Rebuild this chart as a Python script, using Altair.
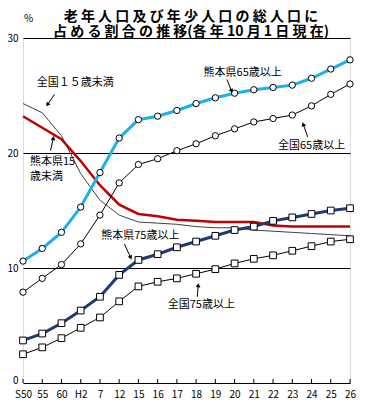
import json
import math
import altair as alt
import pandas as pd

# ---- data ----
cats = ["S50", "55", "60", "H2", "7", "12", "15", "16", "17", "18",
        "19", "20", "21", "22", "23", "24", "25", "26"]

kumamoto_65 = [10.6, 11.7, 13.1, 15.3, 18.3, 21.3, 22.9, 23.2, 23.7, 24.3,
               24.8, 25.2, 25.5, 25.7, 25.9, 26.5, 27.3, 28.1]
national_65 = [7.9, 9.1, 10.3, 12.1, 14.6, 17.4, 19.0, 19.5, 20.2, 20.8,
               21.5, 22.1, 22.7, 23.0, 23.3, 24.1, 25.1, 26.0]
kumamoto_75 = [3.7, 4.3, 5.2, 6.3, 7.5, 9.4, 10.7, 11.2, 11.8, 12.3,
               12.8, 13.3, 13.6, 14.1, 14.4, 14.7, 15.0, 15.2]
national_75 = [2.5, 3.1, 3.9, 4.8, 5.7, 7.1, 8.4, 8.8, 9.1, 9.5,
               9.9, 10.4, 10.8, 11.1, 11.5, 11.9, 12.3, 12.5]
kumamoto_15 = [23.2, 22.2, 21.2, 19.3, 17.2, 15.5, 14.7, 14.5, 14.2, 14.1,
               14.0, 14.0, 14.0, 13.7, 13.6, 13.6, 13.6, 13.6]
national_15 = [24.3, 23.5, 21.5, 18.2, 15.9, 14.6, 14.0, 13.9, 13.8, 13.6,
               13.5, 13.5, 13.3, 13.2, 13.1, 13.0, 12.9, 12.8]

y_ticks = [0, 10, 20, 30]

title_line1 = "老 年 人 口 及 び 年 少 人 口 の 総 人 口 に"
title_line2 = "占 め る 割 合 の 推 移(各 年 10 月 1 日 現 在)"
unit_label = "%"

ann_center_text = ["全国１５歳未満", "熊本県65歳以上", "全国65歳以上", "熊本県75歳以上", "全国75歳以上"]
ann_center_x = [2.71, 11.42, 15.0, 6.1, 9.27]
ann_center_y = [26.1, 27.0, 20.65, 12.8, 6.8]

ann_left_text = ["熊本県15", "歳未満"]
ann_left_x = [0.36, 0.36]
ann_left_y = [19.25, 17.9]

arrow_x1 = [1.64, 1.43, 10.6, 14.8, 5.27, 9.06]
arrow_y1 = [25.1, 20.2, 26.4, 21.4, 12.1, 7.5]
arrow_x2 = [1.27, 1.58, 10.84, 14.57, 5.6, 9.11]
arrow_y2 = [24.2, 21.3, 25.4, 22.5, 10.9, 8.5]

# ---- layout ----
W, H = 327, 345
FONT = "Noto Sans CJK JP"

xscale = alt.Scale(domain=[0, len(cats) - 1], nice=False, zero=False)
yscale = alt.Scale(domain=[0, 30], nice=False, zero=True)

label_expr = json.dumps(cats) + "[datum.value]"

x_axis = alt.Axis(values=list(range(len(cats))), labelExpr=label_expr, grid=False,
                  ticks=False, domain=False, labelPadding=6, labelFont=FONT,
                  labelFontSize=10, labelColor="black", title=None, labelFlush=False,
                  labelOverlap=False)
y_axis = alt.Axis(values=y_ticks, grid=True, gridColor="black", gridWidth=1,
                  gridOpacity=1, domain=False, ticks=False, labelPadding=5,
                  labelFont=FONT, labelFontSize=10, labelColor="black",
                  labelOffset={"condition": {"test": "datum.value === 0", "value": -3}, "value": 0},
                  title=unit_label, titleAngle=0, titleX=5, titleY=-20,
                  titleAlign="center", titleBaseline="middle", titleFont=FONT,
                  titleFontSize=10, titleFontWeight="normal", titleColor="black")


def X(field):
    return alt.X(field, scale=xscale, axis=x_axis)


def Y(field):
    return alt.Y(field, scale=yscale, axis=y_axis)


def frame(vals):
    return pd.DataFrame({"i": list(range(len(cats))), "v": vals})


def line_layer(vals, color, width):
    return alt.Chart(frame(vals)).mark_line(color=color, strokeWidth=width).encode(
        x=X("i:Q"), y=Y("v:Q"))


def point_layer(vals, shape, size):
    return alt.Chart(frame(vals)).mark_point(
        shape=shape, size=size, filled=True, fill="white", stroke="black",
        strokeWidth=1, opacity=1
    ).encode(x=X("i:Q"), y=Y("v:Q"))


layers = [
    line_layer(national_15, "#404040", 1),
    line_layer(kumamoto_15, "#C00000", 2.5),
    line_layer(national_65, "black", 1),
    line_layer(kumamoto_65, "#1CB0EC", 3),
    line_layer(national_75, "black", 1),
    line_layer(kumamoto_75, "#1F3A7A", 3),
    point_layer(national_65, "circle", 40),
    point_layer(kumamoto_65, "circle", 40),
    point_layer(national_75, "square", 45),
    point_layer(kumamoto_75, "square", 45),
]

# inward x ticks
ticks_df = pd.DataFrame({"i": list(range(len(cats)))})
layers.append(
    alt.Chart(ticks_df).mark_rule(color="black", strokeWidth=1).encode(
        x=X("i:Q"), y=alt.value(H), y2=alt.value(H - 4))
)

# annotations
ann_c = pd.DataFrame({"x": ann_center_x, "v": ann_center_y, "t": ann_center_text})
layers.append(
    alt.Chart(ann_c).mark_text(font=FONT, fontSize=11, color="black", align="center",
                               baseline="middle").encode(
        x=X("x:Q"), y=Y("v:Q"), text="t:N")
)
ann_l = pd.DataFrame({"x": ann_left_x, "v": ann_left_y, "t": ann_left_text})
layers.append(
    alt.Chart(ann_l).mark_text(font=FONT, fontSize=11, color="black", align="left",
                               baseline="middle").encode(
        x=X("x:Q"), y=Y("v:Q"), text="t:N")
)

px_per_x = W / (len(cats) - 1)
px_per_y = H / 30.0
angles = []
for a, b, c, d in zip(arrow_x1, arrow_y1, arrow_x2, arrow_y2):
    dx = (c - a) * px_per_x
    dy = -(d - b) * px_per_y
    angles.append(math.degrees(math.atan2(dx, -dy)) % 360)
arr = pd.DataFrame({"x1": arrow_x1, "y1": arrow_y1, "x2": arrow_x2, "y2": arrow_y2, "ang": angles})
layers.append(
    alt.Chart(arr).mark_rule(color="black", strokeWidth=1).encode(
        x=X("x1:Q"), y=Y("y1:Q"), x2="x2:Q", y2="y2:Q")
)
layers.append(
    alt.Chart(arr).mark_point(shape="triangle-up", filled=True, color="black", size=22, opacity=1).encode(
        x=X("x2:Q"), y=Y("y2:Q"), angle=alt.Angle("ang:Q", scale=None))
)

# two-line title
title_df = pd.DataFrame({"t": [title_line1]})
layers.append(
    alt.Chart(title_df).mark_text(font=FONT, fontSize=14, fontWeight="bold", color="black",
                                  align="center", baseline="middle").encode(
        x=alt.value(168), y=alt.value(-21.5), text="t:N")
)
title_df2 = pd.DataFrame({"t": [title_line2]})
layers.append(
    alt.Chart(title_df2).mark_text(font=FONT, fontSize=14, fontWeight="bold", color="black",
                                   align="center", baseline="middle").encode(
        x=alt.value(168), y=alt.value(-6.5), text="t:N")
)

chart = alt.layer(*layers).properties(
    width=W, height=H,
    autosize=alt.AutoSizeParams(type="none"),
    padding={"left": 15, "top": 30, "right": 7, "bottom": 17},
).configure_view(stroke="black", strokeWidth=1).configure(background="white")

chart.save("out.html", embed_options={"renderer": "svg", "actions": False})
